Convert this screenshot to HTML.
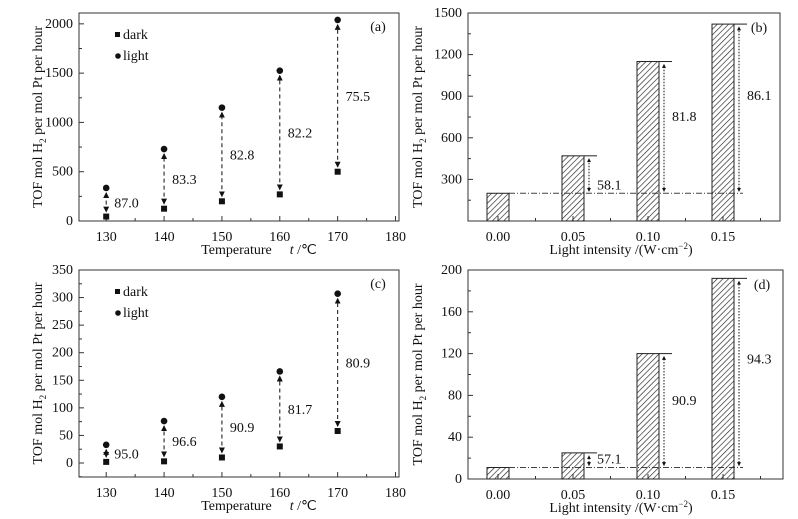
<!DOCTYPE html>
<html><head><meta charset="utf-8"><style>
body{margin:0;background:#fff;}
svg{display:block;font-family:"Liberation Serif",serif;}
</style></head><body>
<svg id="fig" width="798" height="519" viewBox="0 0 798 519" xmlns="http://www.w3.org/2000/svg">
<defs>
<pattern id="hatch" patternUnits="userSpaceOnUse" width="4" height="4" patternTransform="rotate(45)">
<line x1="0" y1="0" x2="0" y2="4" stroke="#222" stroke-width="1.3"/>
</pattern>
<marker id="ah" viewBox="0 0 6 6" refX="5" refY="3" markerWidth="6" markerHeight="6" orient="auto-start-reverse"><path d="M0,0 L6,3 L0,6z" fill="#111"/></marker>
<marker id="ahs" viewBox="0 0 6 6" refX="5" refY="3" markerWidth="4" markerHeight="4" orient="auto-start-reverse"><path d="M0,0 L6,3 L0,6z" fill="#111"/></marker>
</defs>
</svg>
<script>
// Panel (a)
const tempsA = [130,140,150,160,170];
const darkA = [45,125,200,270,500];
const lightA = [335,730,1150,1525,2040];
const selA = ["87.0","83.3","82.8","82.2","75.5"];
const yTicksA = [0,500,1000,1500,2000];
// Panel (c)
const tempsC = [130,140,150,160,170];
const darkC = [2,3,10,30,58];
const lightC = [33,76,120,166,307];
const selC = ["95.0","96.6","90.9","81.7","80.9"];
const yTicksC = [0,50,100,150,200,250,300,350];
const xTicksT = [130,140,150,160,170,180];
// Panel (b)
const intensB = [0.00,0.05,0.10,0.15];
const tofB = [200,470,1150,1420];
const selB = ["","58.1","81.8","86.1"];
const yTicksB = [300,600,900,1200,1500];
// Panel (d)
const intensD = [0.00,0.05,0.10,0.15];
const tofD = [11,25,120,192];
const selD = ["","57.1","90.9","94.3"];
const yTicksD = [0,40,80,120,160,200];
const xTicksI = ["0.00","0.05","0.10","0.15"];

const svg=document.getElementById('fig');
const NS='http://www.w3.org/2000/svg';
function mk(tag,attrs,parent){const e=document.createElementNS(NS,tag);for(const k in attrs)e.setAttribute(k,attrs[k]);(parent||svg).appendChild(e);return e;}
function txt(s,x,y,anchor,size,parent){const t=mk('text',{x:x,y:y,'text-anchor':anchor||'middle','font-size':size||13,fill:'#111'},parent);t.textContent=s;return t;}

function frame(g,L,R,T,B,name){
  const r=mk('rect',{x:L,y:T,width:R-L,height:B-T,fill:'none',stroke:'#333','stroke-width':1},g);
  
  
}
function yTitle(g,x,yc,name){
  const t=mk('text',{x:0,y:0,'text-anchor':'middle','font-size':14,fill:'#111',transform:`translate(${x},${yc}) rotate(-90)`},g);
  t.innerHTML='TOF mol H<tspan font-size="9" dy="4">2</tspan><tspan dy="-4"> per mol Pt per hour</tspan>';
  
  
}

function scatterPanel(name,letter,temps,dark,light,sel,yTicks,L,R,T,B,ymin,ymax){
  const g=mk('g',{});
  
  
  const xs=v=>L+(v-125.3)/(180.6-125.3)*(R-L);
  const ys=v=>B-(v-ymin)/(ymax-ymin)*(B-T);
  frame(g,L,R,T,B,name);
  xTicksT.forEach(v=>{const x=xs(v);mk('line',{x1:x,y1:B,x2:x,y2:B-5,stroke:'#333'},g);
    const t=txt(String(v),x,B+20,'middle',14,g);
    if(v<180){const xm=xs(v+5);mk('line',{x1:xm,y1:B,x2:xm,y2:B-3,stroke:'#333'},g);}});
  yTicks.forEach((v,i)=>{const y=ys(v);mk('line',{x1:L,y1:y,x2:L+5,y2:y,stroke:'#333'},g);
    const t=txt(String(v),L-6,y+4,'end',14,g);
    if(i<yTicks.length-1){const ym=ys((v+yTicks[i+1])/2);mk('line',{x1:L,y1:ym,x2:L+3,y2:ym,stroke:'#333'},g);}
    if(i===0){const ym=ys(v-(yTicks[1]-v)/2);if(ym<B)mk('line',{x1:L,y1:ym,x2:L+3,y2:ym,stroke:'#333'},g);}});
  temps.forEach((t,i)=>{
    const x=xs(t),yd=ys(dark[i]),yl=ys(light[i]);
    if(yd-yl>16){const ln=mk('line',{x1:x,y1:yd-5,x2:x,y2:yl+5,stroke:'#111','stroke-width':1,'stroke-dasharray':'4,3','marker-start':'url(#ah)','marker-end':'url(#ah)'},g);
      }
    const d=mk('rect',{x:x-3,y:yd-3,width:6,height:6,fill:'#111'},g);
    
    const c=mk('circle',{cx:x,cy:yl,r:3.3,fill:'#111'},g);
    
    const lb=txt(sel[i],x+8,(yd+yl)/2+5,'start',14,g);
    
  });
  const lg=mk('g',{},g);
  mk('rect',{x:L+36,y:T+19,width:5,height:5,fill:'#111'},lg);txt('dark',L+44,T+26,'start',14,lg);
  mk('circle',{cx:L+39,cy:T+43,r:2.8,fill:'#111'},lg);txt('light',L+44,T+47,'start',14,lg);
  const pl=txt(`(${letter})`,R-21,T+18,'middle',14,g);
  const xt=mk('text',{x:(L+R)/2+20,y:B+33,'text-anchor':'middle','font-size':14,fill:'#111'},g);
  xt.innerHTML='Temperature<tspan dx="18" font-style="italic">t</tspan> /℃';
  
  yTitle(g,42,(T+B)/2,name);
}

function barPanel(name,letter,intens,tof,sel,yTicks,L,R,T,B,ymax){
  const g=mk('g',{});
  
  
  const xs=v=>L+30+v/0.05*75;
  const ys=v=>B-v/ymax*(B-T);
  frame(g,L,R,T,B,name);
  xTicksI.forEach(s=>{const x=xs(parseFloat(s));mk('line',{x1:x,y1:B,x2:x,y2:B-5,stroke:'#333'},g);
    const t=txt(s,x,B+20,'middle',14,g);
    const xm=xs(parseFloat(s)+0.025);mk('line',{x1:xm,y1:B,x2:xm,y2:B-3,stroke:'#333'},g);});
  yTicks.forEach((v,i)=>{const y=ys(v);mk('line',{x1:L,y1:y,x2:L+5,y2:y,stroke:'#333'},g);
    const t=txt(String(v),L-6,y+4,'end',14,g);
    const ym=ys(v-(yTicks[1]-yTicks[0])/2);if(ym<B)mk('line',{x1:L,y1:ym,x2:L+3,y2:ym,stroke:'#333'},g);});
  const base=tof[0],yb=ys(base);
  const bl=mk('line',{x1:xs(intens[0])+11,y1:yb,x2:xs(intens[3])+20,y2:yb,stroke:'#444','stroke-dasharray':'6,2,1,2'},g);
  
  intens.forEach((v,i)=>{
    const x=xs(v),y=ys(tof[i]);
    const b=mk('rect',{x:x-11,y:y,width:22,height:B-y,fill:'url(#hatch)',stroke:'#222','stroke-width':1},g);
    
    if(i>0){
      mk('line',{x1:x+11,y1:y,x2:x+24,y2:y,stroke:'#222','stroke-width':1},g);
      const a=mk('line',{x1:x+16,y1:yb-2,x2:x+16,y2:y+3,stroke:'#111','stroke-dasharray':'1.5,1.5','marker-start':'url(#ahs)','marker-end':'url(#ahs)'},g);
      
      const ly=i===1?yb-4:y+(yb-y)*0.45;
      const lb=txt(sel[i],x+24,ly,'start',14,g);
      
    }
  });
  const pl=txt(`(${letter})`,R-21,T+19,'middle',14,g);
  const xt=mk('text',{x:621,y:B+33,'text-anchor':'middle','font-size':14,fill:'#111'},g);
  xt.innerHTML='Light intensity /(W·cm<tspan font-size="9" dy="-5">−2</tspan><tspan dy="5">)</tspan>';
  
  yTitle(g,422,(T+B)/2,name);
}

scatterPanel('panel-a','a',tempsA,darkA,lightA,selA,yTicksA,79,399,13,221,0,2110);
barPanel('panel-b','b',intensB,tofB,selB,yTicksB,468,780,13,221,1500);
scatterPanel('panel-c','c',tempsC,darkC,lightC,selC,yTicksC,79,399,270,477,-25.4,350);
barPanel('panel-d','d',intensD,tofD,selD,yTicksD,468,783,270,479,200);
</script>
</body></html>
